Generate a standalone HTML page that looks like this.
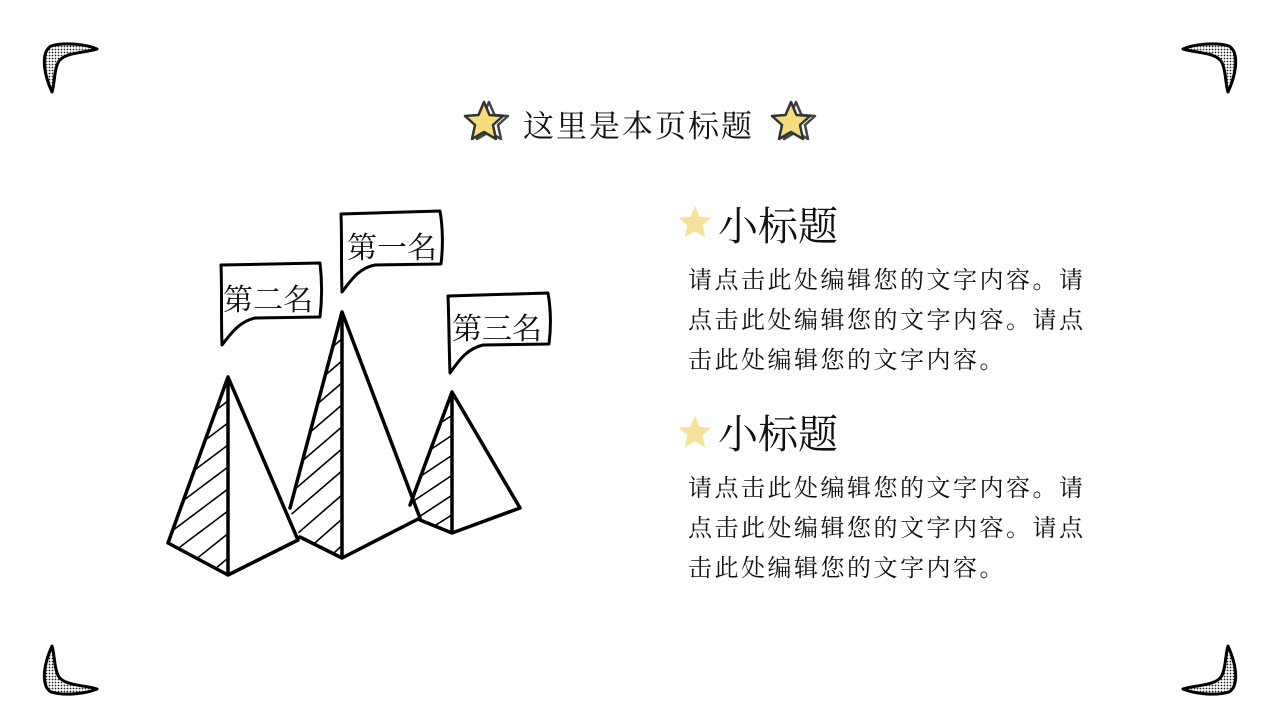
<!DOCTYPE html>
<html><head><meta charset="utf-8"><style>
body{margin:0;width:1280px;height:720px;background:#fff;overflow:hidden;position:relative;font-family:"Liberation Serif","Noto Serif CJK SC",serif;color:#111}
.t{position:absolute;white-space:nowrap}
.title{left:523px;top:101px;font-size:31px;letter-spacing:2px}
.h{left:718px;font-size:40px;line-height:48px}
.p{left:688px;font-size:24px;letter-spacing:2.5px;line-height:40px;width:420px;white-space:normal}
.b{font-size:30px;font-family:"Liberation Serif","Noto Serif CJK SC",serif}
</style></head><body>
<svg width="1280" height="720" style="position:absolute;left:0;top:0">
<defs>
<pattern id="dots" width="3" height="3" patternUnits="userSpaceOnUse"><rect width="3" height="3" fill="#fff"/><circle cx="1.5" cy="1.5" r="0.9" fill="#222"/></pattern>
<g id="corner"><path d="M52,92 C43,72 41,52 51,46 C64,42 85,44 97,49 C85,53 66,52 59,61 C54,69 55,82 52,92 Z" fill="url(#dots)" stroke="#000" stroke-width="3" stroke-linejoin="round"/></g>
<g id="star"><path d="M0,-19 L5.5,-6 L19,-5 L9,4 L12,18 L0,11 L-12,18 L-9,4 L-19,-5 L-5.5,-6 Z" stroke-linejoin="round"/></g>
</defs>
<use href="#corner"/>
<use href="#corner" transform="translate(1280,0) scale(-1,1)"/>
<use href="#corner" transform="translate(0,738) scale(1,-1)"/>
<use href="#corner" transform="translate(1280,738) scale(-1,-1)"/>
<use href="#star" transform="translate(489,121)" fill="none" stroke="#444" stroke-width="2.5"/>
<use href="#star" transform="translate(484,121)" fill="#f5dc7c" stroke="#333" stroke-width="2.5"/>
<use href="#star" transform="translate(796,121)" fill="none" stroke="#444" stroke-width="2.5"/>
<use href="#star" transform="translate(791,121)" fill="#f5dc7c" stroke="#333" stroke-width="2.5"/>
<use href="#star" transform="translate(695,222) scale(0.85)" fill="#f4e29a"/>
<use href="#star" transform="translate(695,432) scale(0.85)" fill="#f4e29a"/>
<clipPath id="c1"><path d="M228,377 L168,543 L228,575 Z"/></clipPath>
<clipPath id="c2"><path d="M342,312 L290,510 L300,537 L342,558 Z"/></clipPath>
<clipPath id="c3"><path d="M452,392 L410,500 L420,520 L452,533 Z"/></clipPath>
<g stroke="#000" stroke-width="1.6">
<g clip-path="url(#c1)"><path d="M160,430 L240,370 M160,452 L240,392 M160,474 L240,414 M160,496 L240,436 M160,518 L240,458 M160,540 L240,480 M160,562 L240,502 M170,580 L240,524 M190,590 L240,548"/></g>
<g clip-path="url(#c2)"><path d="M280,370 L350,310 M280,392 L350,332 M280,414 L350,354 M280,436 L350,376 M280,458 L350,398 M280,480 L350,420 M280,502 L350,442 M280,524 L350,464 M290,540 L350,488 M300,556 L350,512 M320,566 L350,538"/></g>
<g clip-path="url(#c3)"><path d="M400,430 L460,390 M400,450 L460,410 M400,470 L460,430 M400,490 L460,450 M400,510 L460,470 M405,526 L460,490 M415,538 L460,510"/></g>
</g>
<g fill="none" stroke="#000" stroke-width="3.5" stroke-linejoin="round" stroke-linecap="round">
<path d="M168,543 L228,377 L228,575 M228,377 L298,540 M168,543 L228,575 L298,540"/>
<path d="M290,508 L342,312 L342,558 M342,312 L420,518 M300,537 L342,558 L420,518"/>
<path d="M410,505 L452,392 L452,533 M452,392 L520,508 M420,520 L452,533 L520,508"/>
<path d="M221,265 L320,263 C322,280 322,300 320,317 L255,318 C238,322 230,335 222,345 C221,320 222,290 221,265 Z" stroke-width="3" fill="#fff"/>
<path d="M341,214 L440,211 C443,228 443,248 441,264 L375,265 C358,268 350,282 342,292 C341,268 342,240 341,214 Z" stroke-width="3" fill="#fff"/>
<path d="M448,296 L548,293 C551,310 551,328 549,344 L483,345 C466,349 458,362 450,373 C449,348 449,320 448,296 Z" stroke-width="3" fill="#fff"/>
</g>
</svg>
<div class="t b" style="left:223px;top:275px">第二名</div>
<div class="t b" style="left:347px;top:223px">第一名</div>
<div class="t b" style="left:452px;top:304px">第三名</div>
<div class="t title">这里是本页标题</div>
<div class="t h" style="top:203px">小标题</div>
<div class="t p" style="top:261px">请点击此处编辑您的文字内容。请点击此处编辑您的文字内容。请点击此处编辑您的文字内容。</div>
<div class="t h" style="top:411px">小标题</div>
<div class="t p" style="top:469px">请点击此处编辑您的文字内容。请点击此处编辑您的文字内容。请点击此处编辑您的文字内容。</div>
</body></html>
